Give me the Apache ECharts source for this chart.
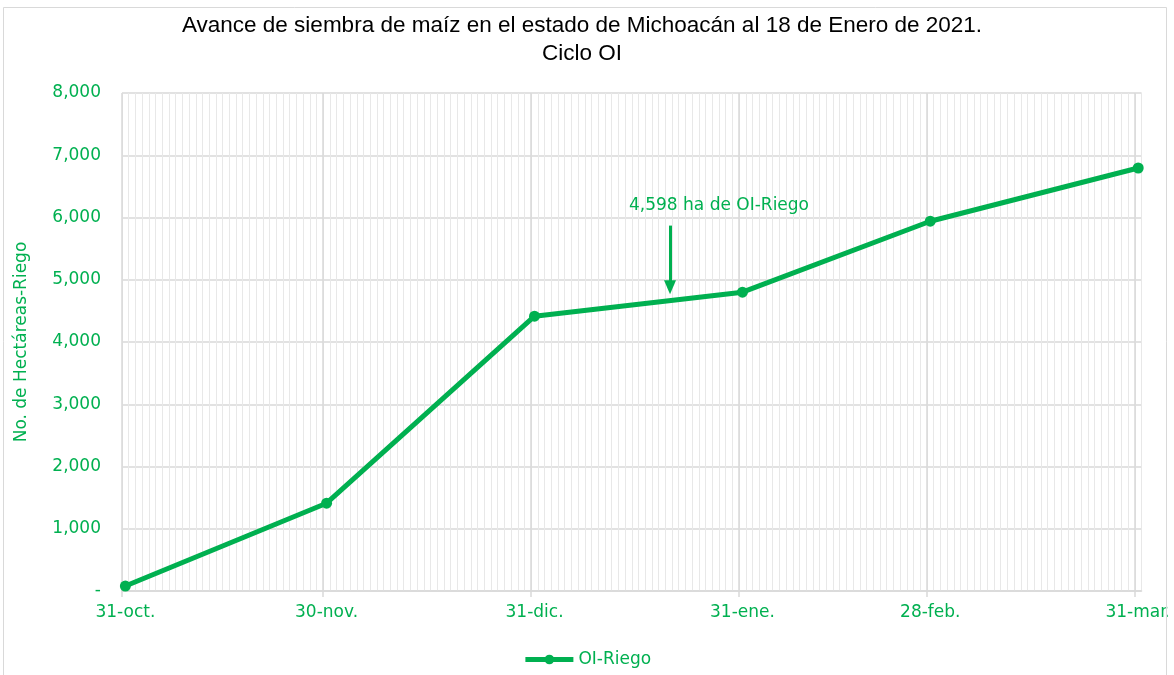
<!DOCTYPE html>
<html>
<head>
<meta charset="utf-8">
<script src="https://cdn.jsdelivr.net/npm/echarts@6/dist/echarts.min.js"></script>
<style>html,body{margin:0;padding:0;background:#fff}#c{width:1174px;height:675px}</style>
</head>
<body>
<div id="c"></div>
<script>
// Days counted from 31-oct-2020 (day 0); points sit mid-day as on an Excel date axis
const tickDays = [0, 30, 61, 92, 120, 151];
const tickLabels = ['31-oct.', '30-nov.', '31-dic.', '31-ene.', '28-feb.', '31-mar.'];
const pointDays = [0, 30, 61, 92, 120, 151];
const riegoValues = [80, 1410, 4415, 4800, 5940, 6795];
const yTicks = [0, 1000, 2000, 3000, 4000, 5000, 6000, 7000, 8000];
const annotationDay = 81.7;
const annotationText = '4,598 ha de OI-Riego';

const GREEN = '#00B050';
const FONT = 'DejaVu Sans';

const chart = echarts.init(document.getElementById('c'));
const majorLines = tickDays.map(d => ({ xAxis: d }));

chart.setOption({
  animation: false,
  backgroundColor: '#fff',
  title: {
    text: 'Avance de siembra de maíz en el estado de Michoacán al 18 de Enero de 2021.\nCiclo OI',
    left: 577, top: 7, textAlign: 'center',
    textStyle: { fontFamily: 'Liberation Sans', fontSize: 22.5, fontWeight: 'normal', color: '#000', lineHeight: 28 }
  },
  legend: {
    bottom: 2, left: 'center',
    itemWidth: 48, itemHeight: 12, itemGap: 4,
    lineStyle: { width: 5 },
    itemStyle: { borderWidth: 0 },
    textStyle: { color: GREEN, fontFamily: FONT, fontSize: 17 },
    data: ['OI-Riego']
  },
  grid: { left: 122, right: 31, top: 93, bottom: 84 },
  xAxis: [
    {
      type: 'value', min: 0, max: 152,
      axisLine: { show: true, lineStyle: { color: '#d9d9d9', width: 1.5 } },
      axisTick: { show: true, customValues: tickDays, length: 6, lineStyle: { color: '#d9d9d9', width: 1.5 } },
      axisLabel: {
        customValues: tickDays.map(d => d + 0.5),
        formatter: v => { const i = tickDays.indexOf(Math.round(v - 0.5)); return i >= 0 ? tickLabels[i] : ''; },
        color: GREEN, fontFamily: FONT, fontSize: 17, margin: 13
      },
      splitLine: { show: false }
    },
    {
      type: 'value', min: 0, max: 152, interval: 1, position: 'bottom',
      axisLine: { show: false }, axisTick: { show: false }, axisLabel: { show: false },
      splitLine: { show: true, lineStyle: { color: '#e8e8e8', width: 1 } }
    }
  ],
  yAxis: {
    type: 'value', min: 0, max: 8000, interval: 1000,
    name: 'No. de Hectáreas-Riego', nameLocation: 'middle', nameGap: 92, nameRotate: 90,
    nameTextStyle: { color: GREEN, fontFamily: FONT, fontSize: 17 },
    axisLine: { show: false }, axisTick: { show: false },
    axisLabel: {
      color: GREEN, fontFamily: FONT, fontSize: 17, margin: 21,
      formatter: v => v === 0 ? '-' : v.toLocaleString('en-US')
    },
    splitLine: { show: true, lineStyle: { color: '#d9d9d9', width: 1.5 } }
  },
  series: [
    {
      name: 'OI-Riego', type: 'line',
      data: pointDays.map((d, i) => [d + 0.5, riegoValues[i]]),
      lineStyle: { color: GREEN, width: 5 },
      itemStyle: { color: GREEN },
      symbol: 'circle', symbolSize: 11,
      z: 5,
      markLine: {
        silent: true, symbol: 'none', label: { show: false }, animation: false,
        lineStyle: { color: '#d9d9d9', width: 1.5, type: 'solid' },
        data: majorLines
      }
    },
    {
      name: 'annot', type: 'line', data: [], z: 6,
      markLine: {
        silent: true, symbol: ['none', 'triangle'], symbolSize: [12, 14], animation: false,
        label: { show: false },
        lineStyle: { color: GREEN, width: 3, type: 'solid' },
        data: [[{ coord: [annotationDay, 5870] }, { coord: [annotationDay, 4880] }]]
      },
      markPoint: {
        silent: true, symbol: 'rect', symbolSize: 1, itemStyle: { color: 'transparent' },
        label: { show: true, formatter: annotationText, color: GREEN, fontFamily: FONT, fontSize: 17 },
        data: [{ coord: [annotationDay + 7.3, 6185] }]
      }
    }
  ],
  graphic: [
    { type: 'rect', z: 100, shape: { x: 1168, y: 0, width: 10, height: 675 }, style: { fill: '#fff' } },
    { type: 'rect', z: 101, shape: { x: 3.5, y: 7.5, width: 1163, height: 700 }, style: { fill: 'none', stroke: '#d9d9d9', lineWidth: 1 } }
  ]
});
</script>
</body>
</html>
